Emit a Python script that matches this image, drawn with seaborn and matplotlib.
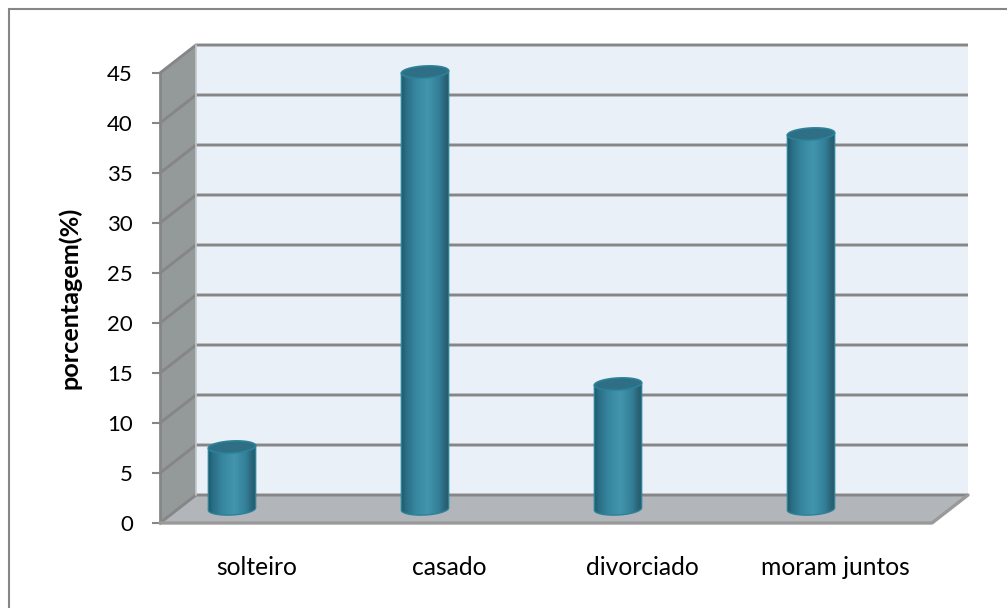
import numpy as np
import pandas as pd
import seaborn as sns
import matplotlib.pyplot as plt
from matplotlib.colors import LinearSegmentedColormap
from matplotlib.patches import Polygon, Rectangle
from matplotlib.path import Path

categorias = ["solteiro", "casado", "divorciado", "moram juntos"]
porcentagem = [6.2, 43.7, 12.5, 37.5]
y_ticks = [0, 5, 10, 15, 20, 25, 30, 35, 40, 45]

W, H = 1007, 608
GRAY = "#868686"

sns.set_theme(style="white")
plt.rcParams["font.family"] = ["Lato", "DejaVu Sans"]

fig = plt.figure(figsize=(W / 100, H / 100), dpi=100)
# front plane of the fake 3d box, in pixels
left, right, bottom, top = 160, 932, 523, 73
ax = fig.add_axes([left / W, 1 - bottom / H, (right - left) / W, (bottom - top) / H])

df = pd.DataFrame({"estado": categorias, "pct": porcentagem})
sns.barplot(data=df, x="estado", y="pct", width=0.245, color="#3d8fa8", ax=ax, zorder=5)
ax.set_xlim(-0.5, 3.5)
ax.set_ylim(0, 45)

# depth of the box in data units
dep_x = 36 / ((right - left) / 4)
dep_y = 2.8
x0, x1 = -0.5, 3.5

ax.add_patch(Polygon([(x0 + dep_x, dep_y), (x1 + dep_x, dep_y), (x1 + dep_x, 45 + dep_y), (x0 + dep_x, 45 + dep_y)],
                     fc="#e9f0f7", ec="none", zorder=1, clip_on=False))
ax.add_patch(Polygon([(x0, 0), (x0 + dep_x, dep_y), (x0 + dep_x, 45 + dep_y), (x0, 45)],
                     fc="#94999a", ec="none", zorder=1, clip_on=False))
ax.add_patch(Polygon([(x0, 0), (x1, 0), (x1 + dep_x, dep_y), (x0 + dep_x, dep_y)],
                     fc="#b2b6ba", ec="none", zorder=1, clip_on=False))

# gridlines on back wall and side wall
for t in y_ticks:
    ax.plot([x0, x0 + dep_x, x1 + dep_x], [t, t + dep_y, t + dep_y], color=GRAY, lw=2.1,
            zorder=2, clip_on=False, solid_joinstyle="miter", solid_capstyle="butt")
ax.plot([x0, x0], [0, 45], color=GRAY, lw=2, zorder=2, clip_on=False)
ax.plot([x0 + dep_x, x0 + dep_x], [dep_y, 45 + dep_y], color="#c4c8cc", lw=1.2, zorder=2, clip_on=False)
ax.plot([x0, x1, x1 + dep_x], [0, 0, dep_y], color="#9a9a9a", lw=2.4, zorder=2, clip_on=False)

# cylinders: recolour seaborn's bars with a horizontal gradient
cmap = LinearSegmentedColormap.from_list("cil", [(0, "#1f5a6c"), (0.1, "#2a6f86"), (0.3, "#37869f"),
                                                 (0.55, "#4295ad"), (0.8, "#337f98"), (0.93, "#2a6377"), (1, "#265a6a")])
grad = np.linspace(0, 1, 64).reshape(1, -1)
shift_x = -24.5 / ((right - left) / 4)
shift_y = 1.4
ell_h = 1.2
tilt = 0.12  # ellipses rise a little to the right
for bar in ax.patches[:4]:
    bx = bar.get_x() + shift_x
    bw = bar.get_width()
    val = bar.get_height()
    bar.set_visible(False)
    cx = bx + bw / 2
    yb = shift_y
    yt = shift_y + val
    th = np.linspace(np.pi, 2 * np.pi, 40)
    low = np.column_stack([cx + bw / 2 * np.cos(th), yb + ell_h / 2 * np.sin(th) + tilt * np.cos(th)])
    verts = np.vstack([[[bx, yt - tilt]], low, [[bx + bw, yt + tilt]], [[bx, yt - tilt]]])
    ax.add_patch(Polygon(verts, closed=True, fc="none", ec="#2b8299", lw=1.0, zorder=6, clip_on=False))
    img = ax.imshow(grad, cmap=cmap, aspect="auto", zorder=5,
                    extent=[bx, bx + bw, yb - ell_h, yt + ell_h])
    img.set_clip_path(Path(verts), ax.transData)
    th2 = np.linspace(0, 2 * np.pi, 80)
    cap = np.column_stack([cx + bw / 2 * np.cos(th2), yt + ell_h / 2 * np.sin(th2) + tilt * np.cos(th2)])
    ax.add_patch(Polygon(cap, closed=True, fc="#2e6f85", ec="#2b8299", lw=1.2, zorder=7, clip_on=False))

ax.set_xlim(-0.5, 3.5)
ax.set_ylim(0, 45)
ax.set_xlabel("")
ax.set_ylabel("porcentagem(%)", fontsize=18.2, fontweight="bold", color="black", labelpad=18.5)
ax.set_yticks(y_ticks)
ax.tick_params(axis="y", labelsize=16, length=5.8, width=1.5, color=GRAY, pad=13.7, labelcolor="black", left=True)
ax.tick_params(axis="x", labelsize=17.7, length=0, pad=24, labelcolor="black")
sns.despine(ax=ax, left=True, bottom=True)
ax.patch.set_alpha(0)

# outer chart frame
fig.add_artist(Rectangle((8.5 / W, -0.1), 1.2, 1.1 - 9.5 / H, transform=fig.transFigure, fc="none", ec=GRAY, lw=1.5))

fig.savefig("out.png", dpi=100)
